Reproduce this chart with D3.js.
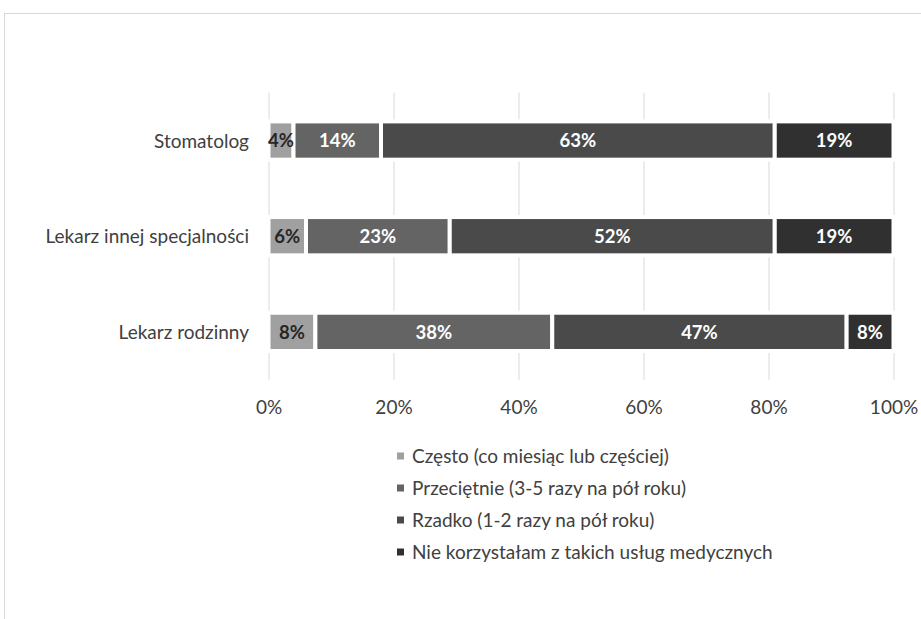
<!DOCTYPE html>
<html>
<head>
<meta charset="utf-8">
<script src="https://cdn.jsdelivr.net/npm/d3@7/dist/d3.min.js"></script>
<style>
  html, body { margin: 0; padding: 0; background: #ffffff; }
  svg { display: block; }
  text { font-family: Lato, "Open Sans", sans-serif; }
</style>
</head>
<body>
<svg id="chart" width="921" height="619"></svg>
<script>
// ---- data ----
const categories = ["Stomatolog", "Lekarz innej specjalności", "Lekarz rodzinny"];
const seriesNames = [
  "Często (co miesiąc lub częściej)",
  "Przeciętnie (3-5 razy na pół roku)",
  "Rzadko (1-2 razy na pół roku)",
  "Nie korzystałam z takich usług medycznych"
];
const czesto      = [4, 6, 7.5];
const przecietnie = [14, 23, 37.9];
const rzadko      = [63, 52, 47.1];
const nieKorzysta = [19, 19, 7.5];
const tickValues  = [0, 20, 40, 60, 80, 100];
const tickLabels  = ["0%", "20%", "40%", "60%", "80%", "100%"];

const seriesValues = [czesto, przecietnie, rzadko, nieKorzysta];
const colors = ["#a0a0a0", "#646464", "#4a4a4a", "#303030"];
const labelColors = ["#262626", "#ffffff", "#ffffff", "#ffffff"];

// ---- layout ----
const svg = d3.select("#chart");

// outer chart border
svg.append("rect")
  .attr("x", 4.5).attr("y", 13.5)
  .attr("width", 1000).attr("height", 1000)
  .attr("fill", "#ffffff")
  .attr("stroke", "#d9d9d9").attr("stroke-width", 1);

const x = d3.scaleLinear().domain([0, 100]).range([268.5, 893.5]);
const y = d3.scaleBand().domain(categories).range([92.7, 379.7])
  .paddingInner(0.6).paddingOuter(0.3);

// gridlines
const gridAxis = d3.axisBottom(x).tickValues(tickValues)
  .tickSize(-(379.7 - 92.7)).tickFormat("");
const grid = svg.append("g").attr("transform", "translate(0,379.7)").call(gridAxis);
grid.select(".domain").remove();
grid.selectAll(".tick line").attr("stroke", "#d9d9d9").attr("stroke-width", 1);

// x tick labels
const xAxis = d3.axisBottom(x).tickValues(tickValues)
  .tickSize(0).tickPadding(0)
  .tickFormat((d, i) => tickLabels[i]);
const xg = svg.append("g").attr("transform", "translate(0,407)").call(xAxis);
xg.select(".domain").remove();
xg.selectAll("text")
  .attr("font-family", "Lato, 'Open Sans', sans-serif")
  .attr("font-size", 19).attr("fill", "#404040")
  .attr("y", 0).attr("dy", "0.36em");

// y category labels
const yAxis = d3.axisLeft(y).tickSize(0).tickPadding(0);
const yg = svg.append("g").attr("transform", "translate(249,0)").call(yAxis);
yg.select(".domain").remove();
yg.selectAll("text")
  .attr("font-family", "Lato, 'Open Sans', sans-serif")
  .attr("font-size", 19).attr("fill", "#404040").attr("dy", "0.37em");

// stacked data
const rows = categories.map((c, i) => {
  const o = { category: c };
  seriesNames.forEach((s, j) => { o[s] = seriesValues[j][i]; });
  return o;
});
const stacked = d3.stack().keys(seriesNames)(rows);

const layers = svg.append("g").selectAll("g")
  .data(stacked).join("g")
  .attr("fill", (d, i) => colors[i]);

layers.selectAll("rect")
  .data(d => d.map(p => ({ p, cat: p.data.category })))
  .join("rect")
  .attr("x", d => x(d.p[0]))
  .attr("y", d => y(d.cat))
  .attr("width", d => x(d.p[1]) - x(d.p[0]))
  .attr("height", y.bandwidth())
  .attr("stroke", "#ffffff")
  .attr("stroke-width", 4);

// data labels
stacked.forEach((layer, i) => {
  svg.append("g").selectAll("text")
    .data(layer)
    .join("text")
    .attr("x", d => (x(d[0]) + x(d[1])) / 2)
    .attr("y", d => y(d.data.category) + y.bandwidth() / 2)
    .attr("dy", "0.36em")
    .attr("text-anchor", "middle")
    .attr("font-size", 18.5)
    .attr("font-weight", "bold")
    .attr("fill", labelColors[i])
    .text(d => Math.round(d[1] - d[0]) + "%");
});

// legend
const legend = svg.append("g").attr("transform", "translate(397,456)");
const li = legend.selectAll("g").data(seriesNames).join("g")
  .attr("transform", (d, i) => `translate(0,${i * 32})`);
li.append("rect")
  .attr("x", 0).attr("y", -3.5).attr("width", 7).attr("height", 7)
  .attr("fill", (d, i) => colors[i]);
li.append("text")
  .attr("x", 15).attr("y", 0).attr("dy", "0.36em")
  .attr("font-size", 19).attr("fill", "#404040")
  .text(d => d);
</script>
</body>
</html>
